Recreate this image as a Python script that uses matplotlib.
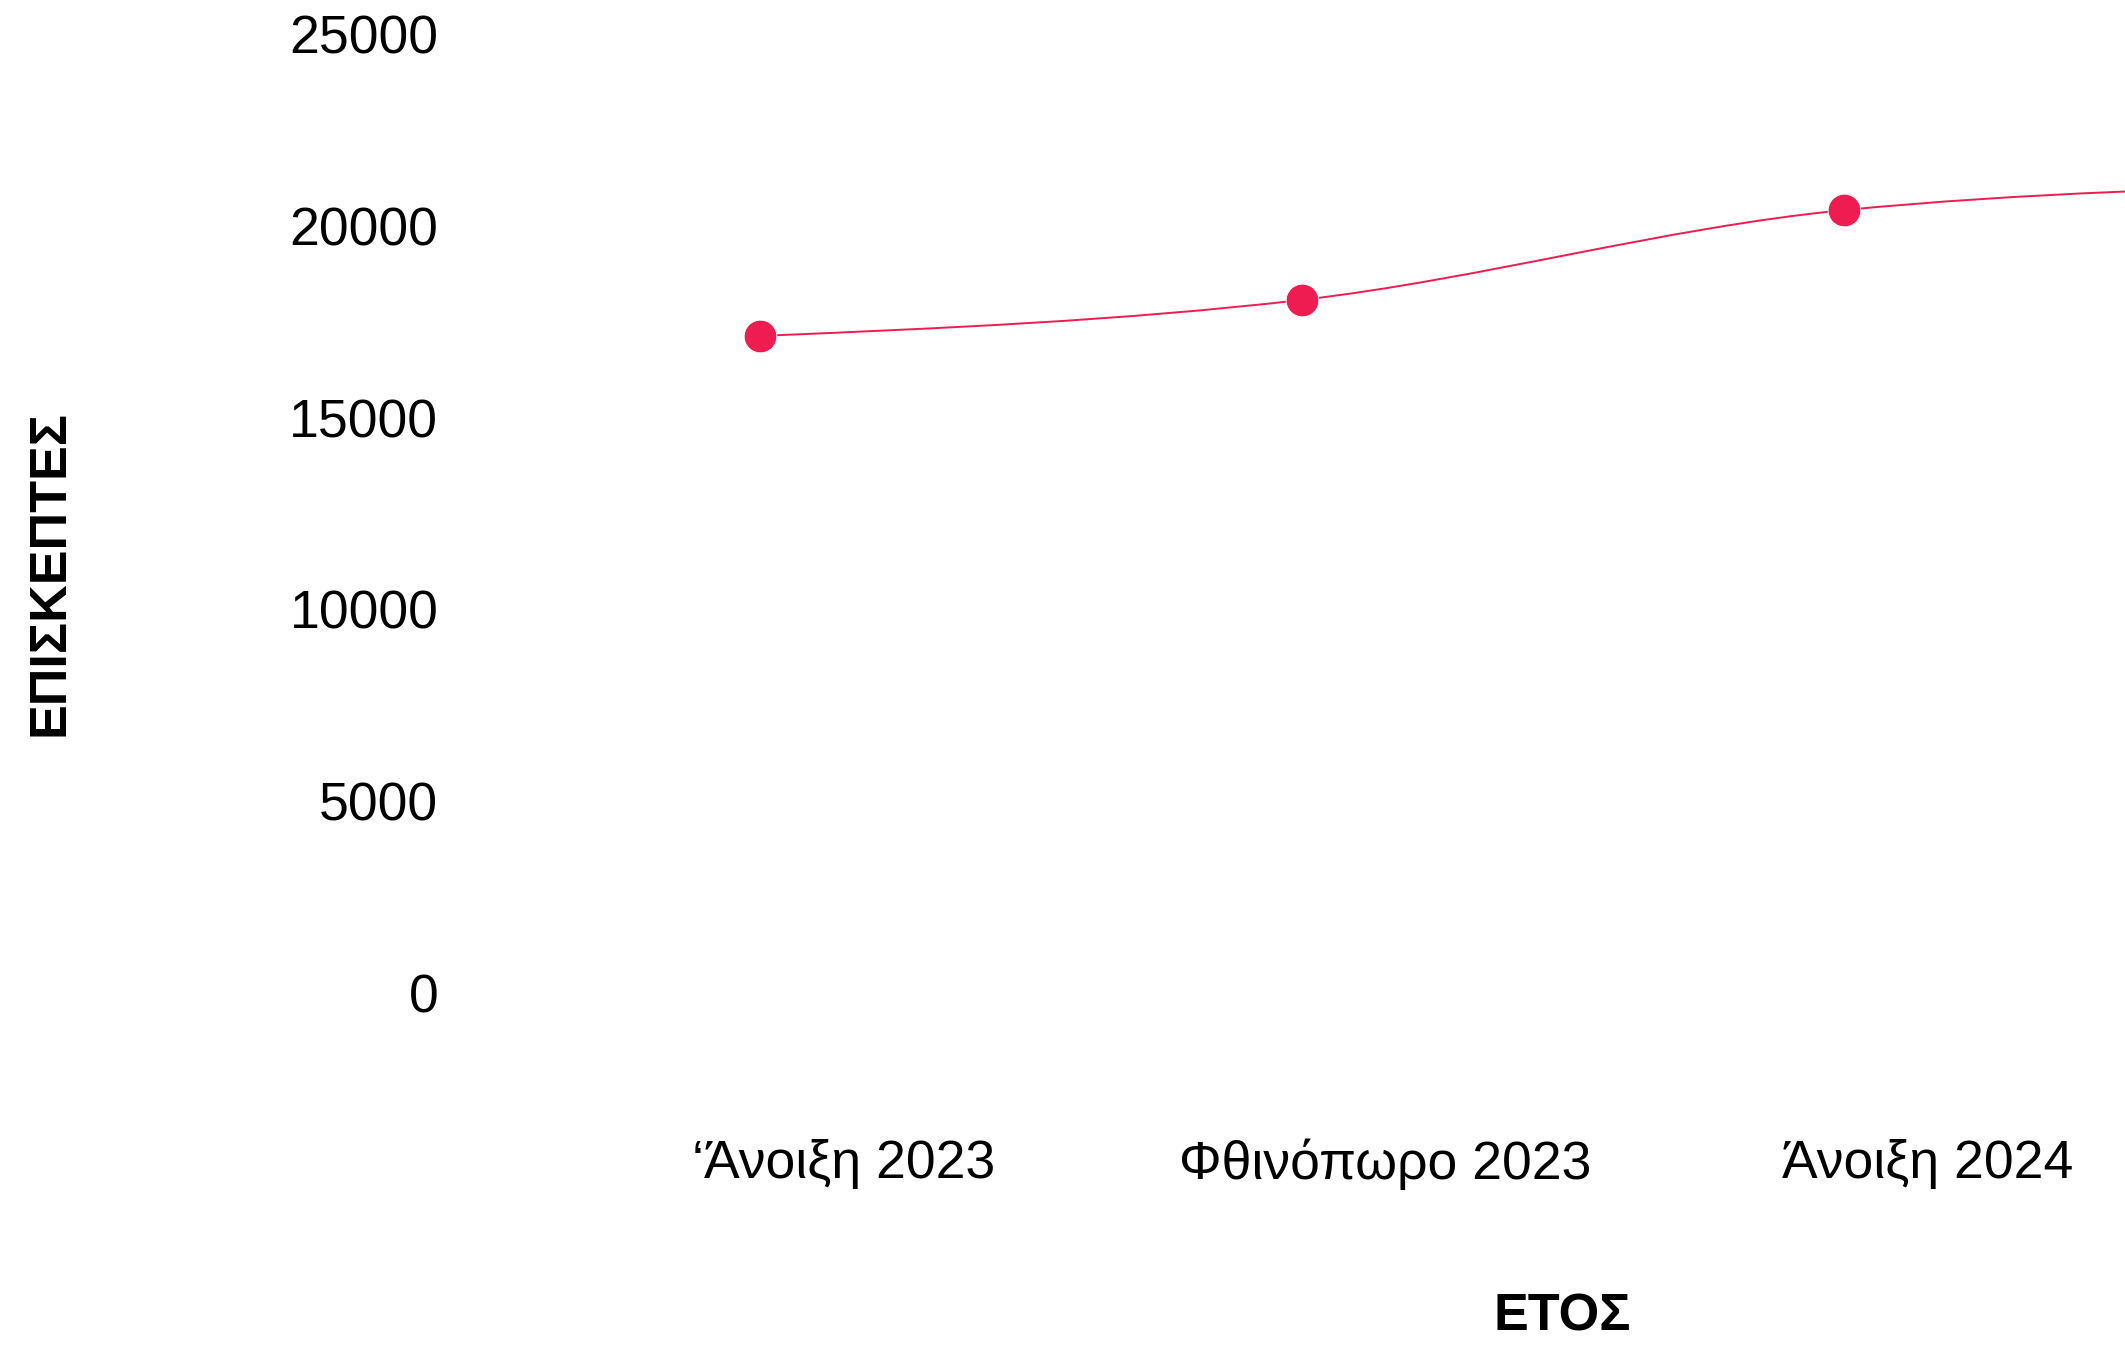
import matplotlib
matplotlib.use("Agg")
import matplotlib.pyplot as plt
from matplotlib.path import Path
from matplotlib.patches import PathPatch
from matplotlib.transforms import ScaledTranslation
import numpy as np

# data (last season is past the right edge)
seasons = ["‘Άνοιξη 2023", "Φθινόπωρο 2023", "Άνοιξη 2024", "Φθινόπωρο 2024"]
visitors = [17130, 18070, 20410, 21100]
y_ticks = [0, 5000, 10000, 15000, 20000, 25000]

PINK = "#ee1c50"

plt.rcParams['font.family'] = ['Liberation Sans', 'DejaVu Sans']


def monotone_path(xs, ys):
    # smooth monotone curve (like d3 curveMonotoneX) as cubic bezier segments
    xs = np.asarray(xs, float)
    ys = np.asarray(ys, float)
    n = len(xs)
    h = np.diff(xs)
    s = np.diff(ys) / h
    t = np.zeros(n)
    for i in range(1, n - 1):
        p = (s[i - 1] * h[i] + s[i] * h[i - 1]) / (h[i - 1] + h[i])
        t[i] = (np.sign(s[i - 1]) + np.sign(s[i])) * min(abs(s[i - 1]), abs(s[i]), 0.5 * abs(p))
    t[0] = (3 * s[0] - t[1]) / 2
    t[-1] = (3 * s[-1] - t[-2]) / 2
    verts = [(xs[0], ys[0])]
    codes = [Path.MOVETO]
    for i in range(n - 1):
        d = h[i] / 3
        verts += [(xs[i] + d, ys[i] + d * t[i]),
                  (xs[i + 1] - d, ys[i + 1] - d * t[i + 1]),
                  (xs[i + 1], ys[i + 1])]
        codes += [Path.CURVE4] * 3
    return Path(verts, codes)


fig = plt.figure(figsize=(21.25, 13.45), dpi=100)
ax = fig.add_axes([0.2141, 0.2617, 0.7859, 0.713])

x = np.arange(len(seasons))
ax.add_patch(PathPatch(monotone_path(x, visitors), facecolor='none',
                       edgecolor=PINK, linewidth=1.4, zorder=2))
ax.plot(x, visitors, linestyle='none', marker='o', markersize=23.5,
        color=PINK, markeredgecolor='white', markeredgewidth=0.6, zorder=3)

ax.set_xlim(-0.5627, 2.518)
ax.set_ylim(0, 25000)
ax.set_yticks(y_ticks)
ax.set_yticklabels([str(v) for v in y_ticks])
ax.set_xticks(x[:3])
ax.set_xticklabels(seasons[:3])

ax.tick_params(axis='both', length=0, labelsize=38.5, colors='black')
ax.tick_params(axis='y', pad=12)
ax.tick_params(axis='x', pad=105)

offset = ScaledTranslation(60 / 72, 0, fig.dpi_scale_trans)
for lbl in ax.get_xticklabels():
    lbl.set_transform(lbl.get_transform() + offset)

for sp in ax.spines.values():
    sp.set_visible(False)

ax.set_ylabel("ΕΠΙΣΚΕΠΤΕΣ", fontsize=37.5, fontweight='bold', va='center')
ax.yaxis.set_label_coords(-0.2425, 0.438)
ax.set_xlabel("ΕΤΟΣ", fontsize=37.5, fontweight='bold', va='center')
ax.xaxis.set_label_coords(0.663, -0.338)

fig.savefig("out.png", dpi=100, facecolor='white')
